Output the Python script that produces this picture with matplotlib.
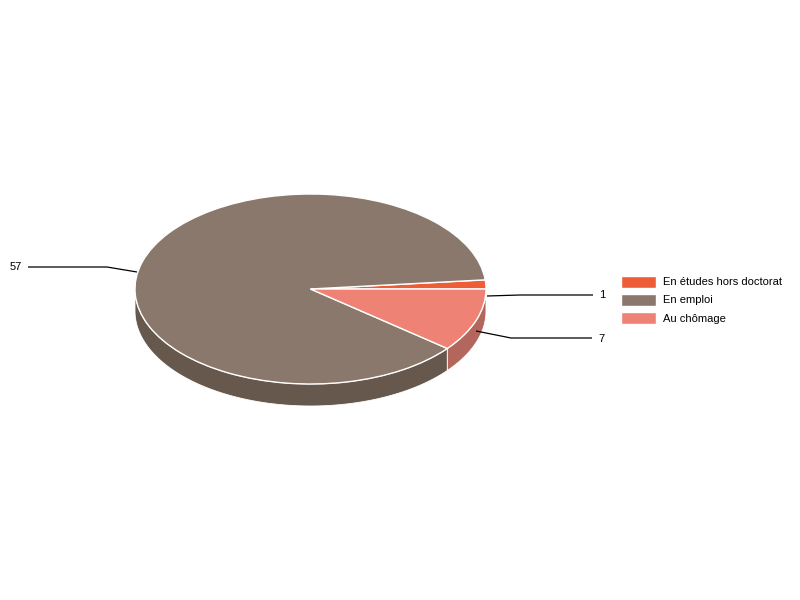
import numpy as np
import matplotlib
matplotlib.use("Agg")
import matplotlib.pyplot as plt

labels = ["En études hors doctorat", "En emploi", "Au chômage"]
values = [1, 57, 7]
top_colors = ["#EE5E36", "#89786B", "#EE8275"]
wall_colors = ["#A8431F", "#67584D", "#B3665B"]

plt.rcParams["font.family"] = ["Liberation Sans", "DejaVu Sans"]

W, H = 800, 600
CX, CY, RX, RY, DEPTH = 310.5, 289, 175.5, 95, 22

fig = plt.figure(figsize=(8, 6), dpi=100)
ax = fig.add_axes([0, 0, 1, 1])

wedges, _ = ax.pie(values, colors=top_colors, startangle=0, counterclock=True,
                   wedgeprops=dict(edgecolor="white", linewidth=1.0, zorder=3))

ax.set_xlim(-CX / RX, (W - CX) / RX)
ax.set_ylim(-(H - CY) / RY, CY / RY)
ax.set_aspect("auto")
ax.axis("off")


def px(x, y):
    return (x - CX) / RX, (CY - y) / RY


# side walls of the slices, only where they face the viewer
edges = np.concatenate([[0], np.cumsum(values)]) / np.sum(values) * 360
d = DEPTH / RY
for i in range(len(values)):
    a0, a1 = max(edges[i], 180), min(edges[i + 1], 360)
    if a1 <= a0:
        continue
    t = np.radians(np.linspace(a0, a1, 200))
    xs = np.concatenate([np.cos(t), np.cos(t[::-1])])
    ys = np.concatenate([np.sin(t), np.sin(t[::-1]) - d])
    ax.fill(xs, ys, facecolor=wall_colors[i], edgecolor="white", linewidth=0.6, zorder=2)

# leader lines and value labels
leaders = {
    1: ([(487, 296), (520, 295), (593, 295)], (599.5, 295), "left"),
    57: ([(137, 272), (107, 267), (28, 267)], (22, 267.5), "right"),
    7: ([(476, 331), (511, 338), (592, 338)], (598.5, 338.5), "left"),
}
for val, (pts, tpos, ha) in leaders.items():
    xy = np.array([px(*p) for p in pts])
    ax.plot(xy[:, 0], xy[:, 1], color="black", lw=0.9, zorder=4, solid_capstyle="butt")
    tx, ty = px(*tpos)
    ax.text(tx, ty, str(val), fontsize=8, color="black", ha=ha, va="center", zorder=5)

leg = ax.legend(wedges, labels, loc="upper left",
                bbox_to_anchor=(620.5 / W, 1 - 275.5 / H), bbox_transform=fig.transFigure,
                frameon=False, fontsize=8, borderpad=0, borderaxespad=0,
                handlelength=3.15, handleheight=1.3, handletextpad=0.64,
                labelspacing=0.54, labelcolor="black")

fig.savefig("out.png", dpi=100)
